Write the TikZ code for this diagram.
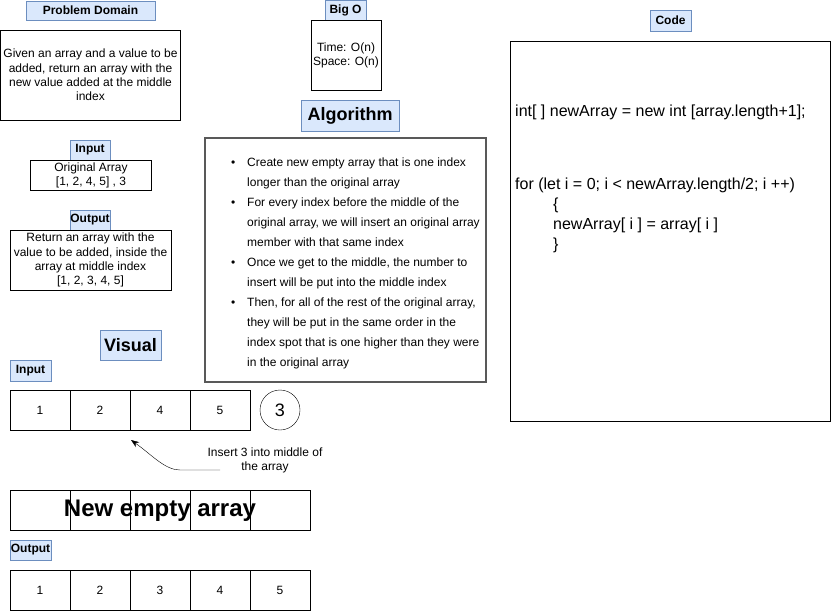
\documentclass[tikz,border=0pt]{standalone}
\usepackage{fontspec}
\setmainfont{Liberation Sans}
\usetikzlibrary{arrows.meta}
\definecolor{tagfill}{HTML}{DAE8FC}
\definecolor{tagline}{HTML}{6C8EBF}
\tikzset{
  tag/.style={draw=tagline, fill=tagfill, inner sep=0pt,
    font=\fontsize{12}{14}\selectfont\bfseries},
  bigtag/.style={tag, font=\fontsize{18}{20}\selectfont\bfseries},
  textbox/.style={draw, inner sep=0pt, align=center,
    font=\fontsize{12}{14.2}\selectfont},
  cell/.style={draw, minimum width=60, minimum height=40, inner sep=0pt,
    font=\fontsize{12}{14}\selectfont},
  arrowline/.style={-{Stealth[length=8pt,width=6pt]}, thin},
}
\begin{document}
\begin{tikzpicture}[x=1pt, y=-1pt]
  \useasboundingbox (0,0) rectangle (831,611);

  % --- problem domain ---
  \node[tag, minimum width=129, minimum height=19] (pdtag) at (90.5,10.5) {Problem Domain};
  \node[textbox, minimum width=180, minimum height=90] (pdbox) at (90.5,75)
    {Given an array and a value to be\\added, return an array with the\\new value added at the middle\\index};

  % --- big O ---
  \node[tag, minimum width=41, minimum height=20] (bigotag) at (345.5,10) {Big O};
  \node[textbox, minimum width=70, minimum height=70] (bigobox) at (346,55)
    {Time: O(n)\\Space: O(n)};

  % --- input / output ---
  \node[tag, minimum width=40, minimum height=20] (intag) at (90,150) {Input};
  \node[textbox, minimum width=121, minimum height=30] (inbox) at (91,175)
    {Original Array\\{[1, 2, 4, 5] , 3}};
  \node[tag, minimum width=40, minimum height=20] (outtag) at (90,220) {Output};
  \node[textbox, minimum width=161, minimum height=60] (outbox) at (90.5,260)
    {Return an array with the\\value to be added, inside the\\array at middle index\\{[1, 2, 3, 4, 5]}};

  % --- algorithm ---
  \node[bigtag, minimum width=98, minimum height=31] (algtag) at (350,115.5) {Algorithm};
  \node[draw=black!65, line width=1.4pt, minimum width=281, minimum height=244] (algbox) at (345.5,260) {};
  \node[anchor=north west, inner sep=0pt, align=left,
    font=\fontsize{12}{20}\selectfont] (algtxt) at (247,158)
    {\llap{\textbullet\hspace{12pt}}Create new empty array that is one index\\
     longer than the original array\\
     \llap{\textbullet\hspace{12pt}}For every index before the middle of the\\
     original array, we will insert an original array\\
     member with that same index\\
     \llap{\textbullet\hspace{12pt}}Once we get to the middle, the number to\\
     insert will be put into the middle index\\
     \llap{\textbullet\hspace{12pt}}Then, for all of the rest of the original array,\\
     they will be put in the same order in the\\
     index spot that is one higher than they were\\
     in the original array};

  % --- code ---
  \node[tag, minimum width=41, minimum height=21] (codetag) at (670.5,20.5) {Code};
  \node[draw, minimum width=320, minimum height=380] (codebox) at (670,231) {};
  \node[anchor=north west, inner sep=0pt, align=left,
    font=\fontsize{16}{20}\selectfont] (codetxt) at (515,105)
    {int[ ] newArray = new int [array.length+1];\\[53pt]
     for (let i = 0; i < newArray.length/2; i ++)\\
     \hspace*{38pt}\{\\
     \hspace*{38pt}newArray[ i ] = array[ i ]\\
     \hspace*{38pt}\}};

  % --- visual ---
  \node[bigtag, minimum width=61, minimum height=30] (vistag) at (130.5,345) {Visual};
  \node[tag, minimum width=41, minimum height=21] (visintag) at (30.5,370.5) {Input};
  \foreach \v [count=\i] in {1,2,4,5}
    \node[cell] (in\i) at (-20+60*\i,410) {\v};
  \node[draw, circle, minimum size=40, inner sep=0pt,
    font=\fontsize{18}{20}\selectfont] (ins) at (280,410) {3};

  \node[align=center, inner sep=0pt, font=\fontsize{12}{13.5}\selectfont] (instxt) at (265,460.5)
    {Insert 3 into middle of\\the array};
  \coordinate (insfrom) at (220,470);
  \coordinate (insto) at (131,440);
  \draw[arrowline] (insfrom) -- (180,470) .. controls (165,470) and (152,455) .. (insto);

  \foreach \i in {1,...,5}
    \node[cell] (ne\i) at (-20+60*\i,510) {};
  \node[inner sep=0pt, font=\fontsize{24}{26}\selectfont\bfseries] (netxt) at (160,511) {New empty array};

  \node[tag, minimum width=41, minimum height=20] (visouttag) at (30.5,550) {Output};
  \foreach \i in {1,...,5}
    \node[cell] (out\i) at (-20+60*\i,590) {\i};
\end{tikzpicture}
\end{document}
